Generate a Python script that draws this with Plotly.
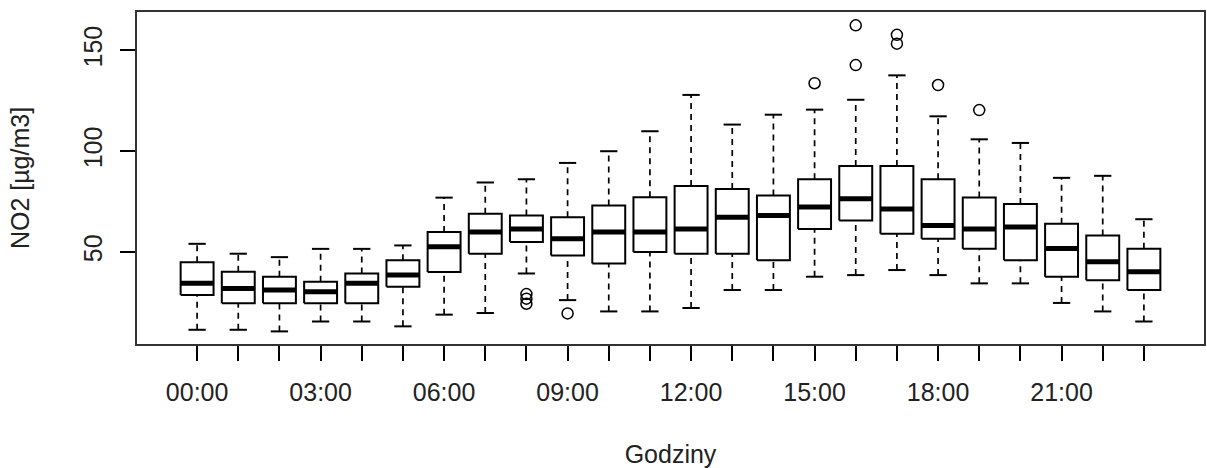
import plotly.graph_objects as go

hours = ["%02d:00" % h for h in range(24)]
lower = [11.5, 11.5, 10.7, 15.6, 15.6, 13.2, 19.0, 19.8, 39.4, 26.2, 20.6, 20.6,
         22.3, 31.2, 31.2, 37.8, 38.6, 41.1, 38.6, 34.5, 34.5, 24.8, 20.6, 15.6]
q1 = [28.7, 24.6, 24.6, 24.6, 24.6, 32.8, 40.1, 49.2, 55.0, 48.3, 44.4, 50.0,
      49.2, 49.2, 46.0, 61.5, 65.6, 59.1, 56.6, 51.6, 46.0, 37.8, 36.1, 31.2]
median = [34.5, 32.0, 31.2, 30.3, 34.5, 38.6, 52.6, 59.9, 61.5, 56.6, 59.9, 59.9,
          61.5, 67.3, 68.1, 72.3, 76.4, 71.4, 63.2, 61.5, 62.4, 51.8, 45.2, 40.2]
q3 = [45.0, 40.2, 37.8, 35.3, 39.4, 46.0, 59.9, 69.0, 68.1, 67.3, 73.1, 77.2,
      82.8, 81.3, 78.0, 86.1, 92.7, 92.7, 86.1, 77.0, 73.9, 64.0, 58.2, 51.6]
upper = [54.1, 49.2, 47.5, 51.6, 51.6, 53.3, 77.0, 84.5, 86.1, 94.2, 100.0, 109.9,
         127.9, 113.2, 118.1, 120.6, 125.5, 137.6, 117.3, 105.9, 104.1, 86.8, 87.8, 66.3]
outlier_hours = [8, 8, 8, 9, 15, 16, 16, 17, 17, 18, 19]
outlier_values = [29.2, 26.9, 24.4, 19.6, 133.7, 162.4, 142.7, 157.7, 153.3, 132.8, 120.4]

y_ticks = [50, 100, 150]
x_title = "Godziny"
y_title = "NO2 [µg/m3]"

BW = 0.4   # half box width
CW = 0.21  # half staple width
FONT = "Liberation Sans, Arial, sans-serif"

bx, by, mx, my, wx, wy, cx, cy = [], [], [], [], [], [], [], []
for i in range(24):
    p = i + 1
    bx += [p - BW, p + BW, p + BW, p - BW, p - BW, None]
    by += [q1[i], q1[i], q3[i], q3[i], q1[i], None]
    mx += [p - BW, p + BW, None]
    my += [median[i], median[i], None]
    wx += [p, p, None, p, p, None]
    wy += [lower[i], q1[i], None, q3[i], upper[i], None]
    cx += [p - CW, p + CW, None, p - CW, p + CW, None]
    cy += [lower[i], lower[i], None, upper[i], upper[i], None]

fig = go.Figure()
fig.add_trace(go.Scatter(x=wx, y=wy, mode="lines",
                         line=dict(color="black", width=1.7, dash="6px,5px")))
fig.add_trace(go.Scatter(x=cx, y=cy, mode="lines",
                         line=dict(color="black", width=2)))
fig.add_trace(go.Scatter(x=bx, y=by, mode="lines", fill="toself", fillcolor="white",
                         line=dict(color="black", width=2)))
fig.add_trace(go.Scatter(x=mx, y=my, mode="lines",
                         line=dict(color="black", width=5)))
fig.add_trace(go.Scatter(x=[h + 1 for h in outlier_hours], y=outlier_values, mode="markers",
                         marker=dict(symbol="circle-open", size=11, color="black",
                                     line=dict(width=1.5))))

fig.update_layout(
    width=1207, height=468,
    margin=dict(l=137, r=3, t=12, b=124),
    plot_bgcolor="white", paper_bgcolor="white",
    showlegend=False,
    font=dict(family=FONT, size=25, color="black"),
)
fig.update_xaxes(
    range=[-0.46, 25.46],
    tickvals=list(range(1, 25)),
    ticktext=[h if i % 3 == 0 else "" for i, h in enumerate(hours)],
    ticks="outside", ticklen=15, tickwidth=1.5, tickcolor="black",
    showline=True, mirror=True, linecolor="#333333", linewidth=2,
    showgrid=False, zeroline=False, automargin=False,
    tickfont=dict(size=25, color="#222222"),
    ticklabelstandoff=10,
    title=dict(text=x_title, font=dict(size=25, color="#222222"), standoff=49),
)
fig.update_yaxes(
    range=[4.45, 169.0],
    tickvals=y_ticks,
    tickangle=-90,
    ticks="outside", ticklen=15, tickwidth=1.5, tickcolor="black",
    showline=True, mirror=True, linecolor="#333333", linewidth=2,
    showgrid=False, zeroline=False, automargin=False,
    tickfont=dict(size=25, color="#222222"),
    ticklabelstandoff=8,
    title=dict(text=y_title, font=dict(size=25, color="#222222"), standoff=42),
)

fig.write_html("out.html", config={"displayModeBar": False},
               post_script="document.body.style.margin='0';")
